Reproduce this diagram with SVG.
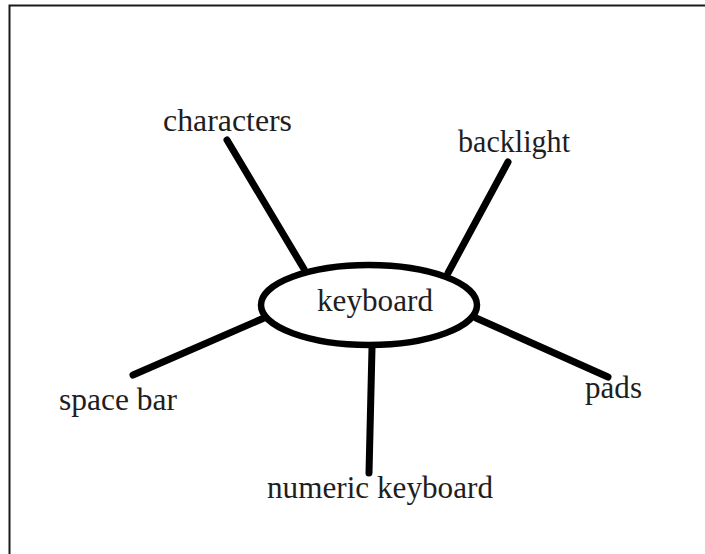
<svg xmlns="http://www.w3.org/2000/svg" width="705" height="554" viewBox="0 0 705 554">
  <style>
    .label { font-family: "Liberation Serif", "Times New Roman", serif; font-size: 31px; fill: #1e1e1e; }
    .spoke { stroke: #000; stroke-width: 7; stroke-linecap: round; fill: none; }
    .hub { fill: #fff; stroke: #000; stroke-width: 6.5; }
  </style>
  <rect width="705" height="554" fill="#fff"/>
  <!-- frame edges -->
  <path d="M9.5 554 V5.5 H705" fill="none" stroke="#1a1a1a" stroke-width="2"/>

  <g id="connectors">
    <line class="spoke" x1="227" y1="140" x2="304" y2="269"/>
    <line class="spoke" x1="508" y1="162" x2="448" y2="273"/>
    <line class="spoke" x1="133" y1="375" x2="264" y2="318"/>
    <line class="spoke" x1="476" y1="318" x2="608" y2="377"/>
    <line class="spoke" x1="372" y1="348" x2="369" y2="473"/>
  </g>

  <g id="keyboard">
    <ellipse class="hub" cx="369" cy="305" rx="108" ry="40"/>
    <text class="label" x="317" y="311" textLength="116" lengthAdjust="spacingAndGlyphs">keyboard</text>
  </g>
  <g id="characters">
    <text class="label" x="163" y="131" textLength="129" lengthAdjust="spacingAndGlyphs">characters</text>
  </g>
  <g id="backlight">
    <text class="label" x="458" y="152" textLength="112" lengthAdjust="spacingAndGlyphs">backlight</text>
  </g>
  <g id="space-bar">
    <text class="label" x="59" y="410" textLength="118" lengthAdjust="spacingAndGlyphs">space bar</text>
  </g>
  <g id="pads">
    <text class="label" x="585" y="398" textLength="57" lengthAdjust="spacingAndGlyphs">pads</text>
  </g>
  <g id="numeric-keyboard">
    <text class="label" x="267" y="498" textLength="226" lengthAdjust="spacingAndGlyphs">numeric keyboard</text>
  </g>
</svg>
